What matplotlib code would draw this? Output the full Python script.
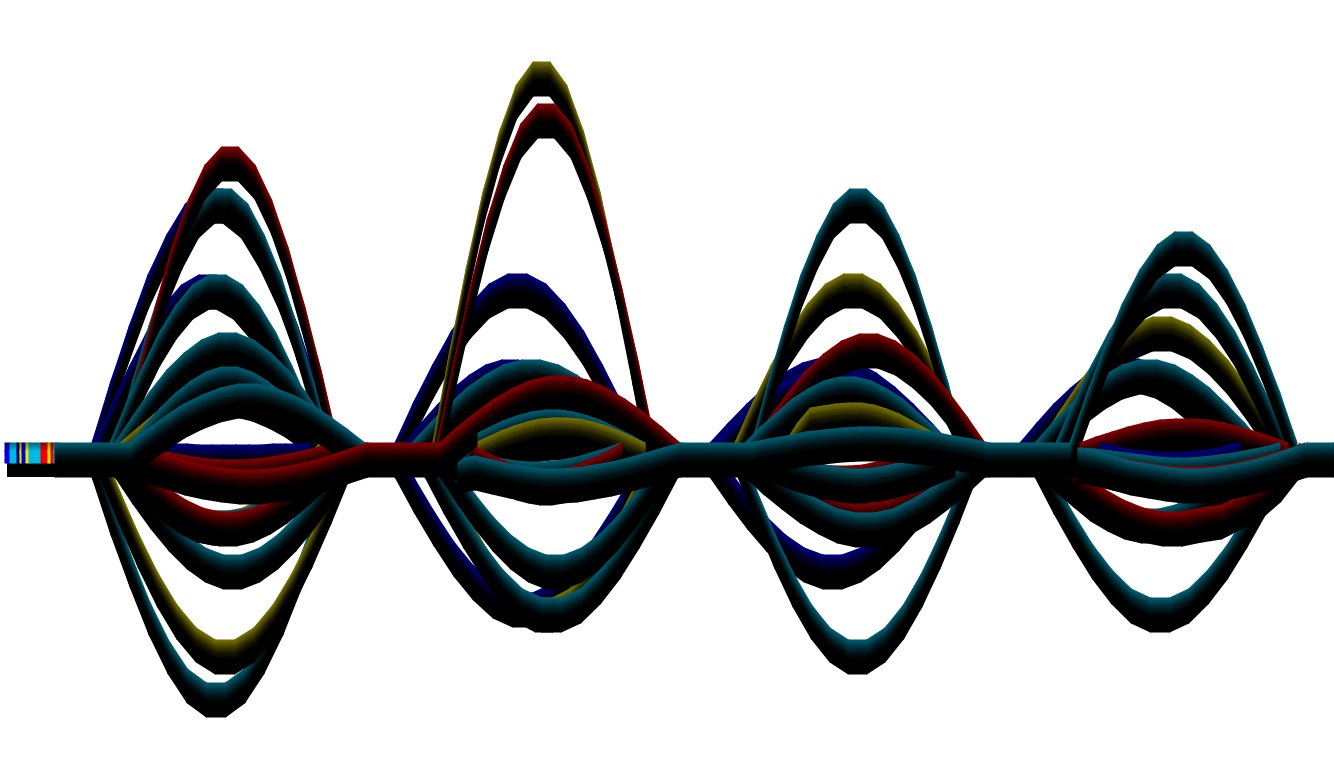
import numpy as np
import matplotlib
matplotlib.use("Agg")
import matplotlib.pyplot as plt
from matplotlib.colors import LinearSegmentedColormap

# heights over the base line, one list per ribbon
# first hump
h1_blue_a = [0, 61, 117, 168, 208, 239, 254, 254, 239, 208, 168, 117, 61, 0]
h1_blue_c = [0, 40, 77, 111, 138, 158, 168, 168, 158, 138, 111, 77, 40, 0]
h1_teal_b = [0, 61, 117, 168, 208, 239, 254, 254, 239, 208, 168, 117, 61, 0]
h1_red_a = [0, 71, 136, 195, 243, 278, 296, 296, 278, 243, 195, 136, 71, 0]
h1_teal_c = [0, 40, 77, 111, 138, 158, 168, 168, 158, 138, 111, 77, 40, 0]
h1_teal_d = [0, 26, 51, 73, 90, 103, 110, 110, 103, 90, 73, 51, 26, 0]
h1_olive_f = [0, 14, 28, 40, 49, 56, 60, 60, 56, 49, 40, 28, 14, 0]
h1_teal_e = [0, 18, 35, 50, 62, 71, 76, 76, 71, 62, 50, 35, 18, 0]
h1_teal_k = [0, -58, -110, -158, -197, -226, -240, -240, -226, -197, -158, -110, -58, 0]
h1_olive_j = [0, -47, -91, -130, -162, -185, -197, -197, -185, -162, -130, -91, -47, 0]
h1_teal_i = [0, -27, -52, -74, -92, -105, -112, -112, -105, -92, -74, -52, -27, 0]
h1_olive_e = [0, -17, -32, -46, -57, -65, -68, -68, -65, -57, -46, -32, -17, 0]
h1_teal_h = [0, -17, -32, -46, -57, -65, -68, -68, -65, -57, -46, -32, -17, 0]
h1_red_c = [0, -17, -32, -46, -57, -65, -69, -69, -65, -57, -46, -32, -17, 0]
h1_blue_f = [0, -1, -1, -1, -2, -2, -2, -2, -2, -2, -1, -1, -1, 0]
h1_red_d = [0, -4, -8, -11, -14, -16, -17, -17, -16, -14, -11, -8, -4, 0]
h1_teal_g = [0, 14, 27, 39, 48, 55, 59, 59, 55, 48, 39, 27, 14, 0]
h1_red_b = [0, -6, -12, -18, -22, -25, -27, -27, -25, -22, -18, -12, -6, 0]

# second hump
h2_blue_b = [0, 41, 78, 112, 139, 159, 169, 169, 159, 139, 112, 78, 41, 0]
h2_blue_c = [0, 20, 38, 55, 68, 78, 83, 83, 78, 68, 55, 38, 20, 0]
h2_blue_k = [0, -36, -69, -99, -123, -141, -150, -150, -141, -123, -99, -69, -36, 0]
h2_olive_l = [0, -37, -71, -102, -127, -146, -155, -155, -146, -127, -102, -71, -37, 0]
h2_teal_m = [0, -37, -71, -102, -127, -146, -155, -155, -146, -127, -102, -71, -37, 0]
h2_teal_j = [0, -27, -52, -74, -92, -105, -112, -112, -105, -92, -74, -52, -27, 0]
h2_teal_d = [0, 20, 38, 55, 68, 78, 83, 83, 78, 68, 55, 38, 20, 0]
h2_olive_a = [0, 91, 175, 251, 312, 358, 381, 381, 358, 312, 251, 175, 91, 0]
h2_red_a = [0, 81, 156, 224, 278, 319, 339, 339, 319, 278, 224, 156, 81, 0]
h2_red_e = [0, 16, 30, 43, 53, 61, 65, 65, 61, 53, 43, 30, 16, 0]
h2_red_f = [0, 16, 31, 44, 55, 63, 67, 67, 63, 55, 44, 31, 16, 0]
h2_teal_g = [0, 8, 15, 22, 27, 31, 33, 33, 31, 27, 22, 15, 8, 0]
h2_olive_m = [0, 4, 8, 11, 14, 16, 17, 17, 16, 14, 11, 8, 4, 0]
h2_olive_h = [0, 6, 12, 17, 21, 24, 25, 25, 24, 21, 17, 12, 6, 0]
h2_teal_n = [0, -5, -9, -13, -16, -18, -19, -19, -18, -16, -13, -9, -5, 0]
h2_red_n = [0, -7, -13, -18, -23, -26, -28, -28, -26, -23, -18, -13, -7, 0]
h2_teal_i = [-16, -13, -17, -21, -24, -26, -26, -25, -22, -19, -15, -10, -5, 0]

# third hump
h3_blue_d = [0, 20, 39, 56, 70, 80, 85, 85, 80, 70, 56, 39, 20, 0]
h3_blue_e = [0, 18, 35, 50, 62, 71, 75, 75, 71, 62, 50, 35, 18, 0]
h3_blue_g = [0, -27, -52, -74, -92, -105, -112, -112, -105, -92, -74, -52, -27, 0]
h3_teal_k = [0, -47, -91, -130, -162, -185, -197, -197, -185, -162, -130, -91, -47, 0]
h3_olive_b = [0, 41, 78, 112, 139, 159, 169, 169, 159, 139, 112, 78, 41, 0]
h3_teal_a = [0, 61, 117, 168, 208, 239, 254, 254, 239, 208, 168, 117, 61, 0]
h3_red_c = [0, 26, 50, 72, 89, 102, 109, 109, 102, 89, 72, 50, 26, 0]
h3_teal_e = [0, 16, 30, 44, 54, 62, 66, 66, 62, 54, 44, 30, 16, 0]
h3_olive_f = [0, 20, 35, 37, 39, 40, 40, 38, 34, 29, 22, 15, 8, 0]
h3_red_b = [0, -14, -28, -40, -49, -56, -60, -60, -56, -49, -40, -28, -14, 0]
h3_red_h = [0, -6, -11, -15, -19, -22, -23, -23, -22, -19, -15, -11, -6, 0]
h3_teal_c = [0, -17, -32, -46, -57, -66, -70, -70, -66, -57, -46, -32, -17, 0]
h3_teal_h = [0, -6, -12, -17, -21, -24, -26, -26, -24, -21, -17, -12, -6, 0]
h3_teal_g = [0, 4, 7, 11, 13, 15, 16, 16, 15, 13, 11, 7, 4, 0]

# fourth hump
h4_blue_e = [0, 20, 39, 55, 69, 79, 84, 84, 79, 69, 55, 39, 20, 0]
h4_olive_c = [0, 30, 58, 83, 103, 118, 126, 126, 118, 103, 83, 58, 30, 0]
h4_teal_d = [0, 20, 38, 55, 68, 78, 83, 83, 78, 68, 55, 38, 20, 0]
h4_teal_b = [0, 41, 78, 112, 139, 159, 169, 169, 159, 139, 112, 78, 41, 0]
h4_teal_a = [0, 51, 97, 139, 173, 198, 211, 211, 198, 173, 139, 97, 51, 0]
h4_teal_l = [0, -37, -71, -102, -127, -146, -155, -155, -146, -127, -102, -71, -37, 0]
h4_teal_m = [0, -16, -30, -44, -54, -62, -66, -66, -62, -54, -44, -30, -16, 0]
h4_red_k = [0, -17, -32, -46, -57, -65, -69, -69, -65, -62, -52, -42, -25, 0]
h4_red_f = [0, 6, 11, 16, 20, 23, 24, 24, 23, 20, 16, 11, 6, 0]
h4_blue_g = [0, -2, -5, -7, -8, -9, -10, -10, -9, -8, -7, -5, -2, 0]
h4_teal_h = [-5, -6, -8, -10, -12, -14, -15, -15, -14, -12, -10, -7, -4, 0]
h4_red_j = [-5, -9, -13, -17, -20, -23, -24, -24, -23, -20, -16, -11, -6, 0]
h4_teal_z = [-5, -8, -13, -18, -21, -24, -26, -26, -24, -21, -17, -12, -6, 0]

flat = [0, 0]

# end piece on the left
cap_edges = [5, 10, 17, 20, 22, 26, 29, 41, 48, 51, 54, 55]
cap_names = ["blue", "cyan", "navy", "yellow", "blue", "yellow", "cyan", "bright", "yellow", "bright", "cyan"]

colors = {
    "navy": (0.0, 0.0, 0.5),
    "teal": (0.0, 0.37, 0.45),
    "red": (0.52, 0.0, 0.0),
    "olive": (0.47, 0.45, 0.0),
    "blue": (0.0, 0.0, 0.85),
    "cyan": (0.0, 0.72, 0.9),
    "yellow": (0.95, 0.9, 0.0),
    "bright": (0.95, 0.0, 0.0),
}

# drawing order, later ones lie on top: values, colour, first x, last x
ribbons = [
    (h1_blue_a, "navy", 92, 335), (h1_blue_c, "navy", 95, 320),
    (h1_teal_b, "teal", 116, 330), (h1_red_a, "red", 122, 338),
    (h1_teal_c, "teal", 110, 325), (h1_teal_d, "teal", 115, 340),
    (h1_olive_f, "olive", 120, 335), (h1_teal_e, "teal", 130, 328),
    (h1_teal_k, "teal", 92, 340), (h1_olive_j, "olive", 100, 350),
    (h1_teal_i, "teal", 115, 350), (h1_olive_e, "olive", 120, 320),
    (h1_teal_h, "teal", 115, 330), (h1_red_c, "red", 118, 338),
    (h1_blue_f, "navy", 150, 310), (h1_red_d, "red", 130, 335),
    (h1_teal_g, "teal", 130, 365), (h1_red_b, "red", 130, 368),
    # left foot of the teal one lies over the red one again
    (h1_teal_g[:4], "teal", 130, 184),
    (flat, "teal", 55, 130),
    (h2_blue_b, "navy", 395, 640), (h2_blue_c, "navy", 405, 615),
    (h2_blue_k, "navy", 395, 650), (h2_olive_l, "olive", 433, 655),
    (h2_teal_m, "teal", 425, 678), (h2_teal_j, "teal", 440, 670),
    (h2_teal_d, "teal", 412, 650), (h2_olive_a, "olive", 433, 650),
    (h2_red_a, "red", 437, 655), (flat, "red", 365, 443),
    (h2_red_e, "red", 440, 668), (h2_red_f, "red", 440, 680),
    (h2_teal_g, "teal", 460, 645), (h2_olive_m, "olive", 490, 625),
    (h2_olive_h, "olive", 475, 645),
    (h2_teal_n, "teal", 450, 620), (h2_red_n, "red", 470, 622),
    (h2_teal_i, "teal", 458, 680),
    # same for the foot of the red one
    (h2_red_f[:3], "red", 440, 477),
    (h3_blue_d, "navy", 710, 950), (h3_blue_e, "navy", 715, 945),
    (h3_blue_g, "navy", 710, 955), (h3_teal_k, "teal", 738, 977),
    (h3_olive_b, "olive", 735, 971), (h3_teal_a, "teal", 752, 964),
    (h3_red_c, "red", 752, 985), (h3_teal_e, "teal", 745, 950),
    (h3_olive_f, "olive", 785, 950), (h3_red_b, "red", 745, 980),
    (h3_red_h, "red", 755, 930), (h3_teal_c, "teal", 745, 985),
    (h3_teal_h, "teal", 760, 955), (h3_teal_g, "teal", 750, 990),
    (flat, "teal", 680, 755),
    (h4_blue_e, "navy", 1020, 1240), (h4_olive_c, "olive", 1040, 1284),
    (h4_teal_d, "teal", 1035, 1262), (h4_teal_b, "teal", 1056, 1288),
    (h4_teal_l, "teal", 1035, 1285), (h4_teal_m, "teal", 1040, 1260),
    (h4_red_k, "red", 1045, 1300),
    (flat, "teal", 985, 1078), (h4_teal_a, "teal", 1070, 1297),
    (h4_red_f, "red", 1080, 1288),
    (h4_blue_g, "navy", 1100, 1240), (h4_teal_h, "teal", 1080, 1280),
    (h4_red_j, "red", 1078, 1305), (h4_teal_z, "teal", 1078, 1307),
    (flat, "teal", 1307, 1334),
]

# shading of a band from its top edge downward: pixels below the edge, strength
band_depth = [0, 6, 12, 19, 34]
band_light = [1, 0.6, 0.25, 0, 0]


def ribbon(ax, x, yy, colour):
    """ shaded band hanging below the line x, yy """
    xx = np.array(x, dtype=float)
    yy = np.array(yy, dtype=float)
    X = np.vstack([xx for d in band_depth])
    Y = np.vstack([yy - d for d in band_depth])
    C = np.vstack([np.full_like(xx, v) for v in band_light])
    cmap = LinearSegmentedColormap.from_list("r", ["black", colour])
    ax.pcolormesh(X, Y, C, shading="gouraud", cmap=cmap, vmin=0, vmax=1)


fig = plt.figure(figsize=(13.34, 7.81), dpi=100)
ax = fig.add_axes([0, 0, 1, 1])
ax.set_xlim(0, 1334)
ax.set_ylim(-338, 443)
ax.axis("off")

# left end: bright stripes over a black block
ax.bar(31, 14, width=48, bottom=-34, color="black", linewidth=0)
for i, name in enumerate(cap_names):
    x0, x1 = cap_edges[i], cap_edges[i + 1]
    cmap = LinearSegmentedColormap.from_list("c", ["black", colors[name]])
    X = np.array([[x0, x1], [x0, x1], [x0, x1]], dtype=float)
    Y = np.array([[0, 0], [-8, -8], [-20, -20]], dtype=float)
    C = np.array([[0.55, 0.55], [1, 1], [1, 1]])
    ax.pcolormesh(X, Y, C, shading="gouraud", cmap=cmap, vmin=0, vmax=1)

for values, name, first, last in ribbons:
    ribbon(ax, np.linspace(first, last, len(values)), values, colors[name])

fig.savefig("out.png", dpi=100, facecolor="white")
